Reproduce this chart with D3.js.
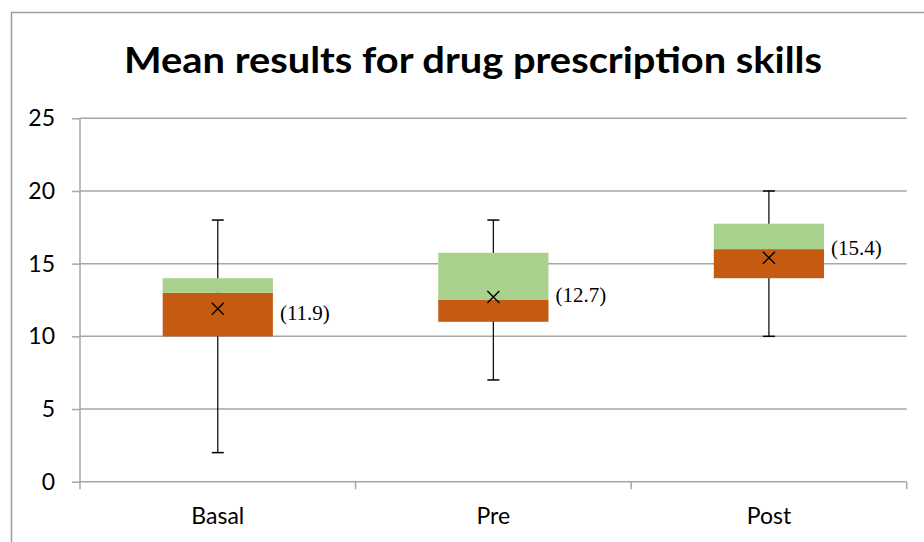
<!DOCTYPE html>
<html>
<head>
<meta charset="utf-8">
<script src="https://cdn.jsdelivr.net/npm/d3@7"></script>
<style>
  html, body { margin: 0; padding: 0; background: #fff; }
  svg { display: block; }
</style>
</head>
<body>
<svg id="chart" width="924" height="542"></svg>
<script>
// ---- data ----
const categories = ["Basal", "Pre", "Post"];
const whiskerLow = [2, 7, 10];
const boxLow = [10, 11, 14];
const median = [13, 12.5, 16];
const boxHigh = [14, 15.75, 17.75];
const whiskerHigh = [18, 18, 20];
const means = [11.9, 12.7, 15.4];
const meanLabels = ["(11.9)", "(12.7)", "(15.4)"];
const yTicks = [0, 5, 10, 15, 20, 25];
const title = "Mean results for drug prescription skills";

// ---- layout ----
const W = 924, H = 542;
const plot = { left: 80, right: 906.7, top: 118.3, bottom: 481.7 };
const labelNudge = [4, -2, -10]; // vertical nudge of mean labels (px)
const orange = "#C55A11", green = "#A9D18E", gridCol = "#a6a6a6";

const svg = d3.select("#chart");

// outer chart border
svg.append("path")
  .attr("d", `M11.5,${H} V12.5 H${W}`)
  .attr("fill", "none").attr("stroke", "#9e9e9e").attr("stroke-width", 1.5);

svg.append("text")
  .attr("x", 473).attr("y", 73)
  .attr("text-anchor", "middle")
  .attr("font-family", "Lato, 'Open Sans', sans-serif")
  .attr("font-weight", "bold")
  .attr("font-size", 36)
  .attr("textLength", 698).attr("lengthAdjust", "spacingAndGlyphs")
  .attr("fill", "#000")
  .text(title);

const x = d3.scaleBand().domain(categories).range([plot.left, plot.right]).paddingInner(0).paddingOuter(0);
const y = d3.scaleLinear().domain([0, 25]).range([plot.bottom, plot.top]);

// gridlines
svg.append("g").selectAll("line").data(yTicks).join("line")
  .attr("x1", plot.left).attr("x2", plot.right)
  .attr("y1", d => y(d)).attr("y2", d => y(d))
  .attr("stroke", gridCol).attr("stroke-width", 1.5);

// y axis
const yAxis = svg.append("g").attr("transform", `translate(${plot.left},0)`)
  .call(d3.axisLeft(y).tickValues(yTicks).tickSize(8).tickPadding(17));
yAxis.select(".domain").remove();
yAxis.selectAll(".tick line").attr("stroke", gridCol).attr("stroke-width", 1.5);
yAxis.selectAll(".tick text")
  .attr("font-family", "Lato, 'Open Sans', sans-serif")
  .attr("font-size", 23).attr("fill", "#000");
svg.append("line")
  .attr("x1", plot.left).attr("x2", plot.left)
  .attr("y1", plot.top).attr("y2", plot.bottom + 7.5)
  .attr("stroke", gridCol).attr("stroke-width", 1.5);

// x axis boundary ticks
const bounds = [0, 1, 2, 3].map(i => plot.left + i * x.bandwidth());
svg.append("g").selectAll("line").data(bounds.slice(1)).join("line")
  .attr("x1", d => d).attr("x2", d => d)
  .attr("y1", plot.bottom).attr("y2", plot.bottom + 7.5)
  .attr("stroke", gridCol).attr("stroke-width", 1.5);

// category labels
svg.append("g").selectAll("text").data(categories).join("text")
  .attr("x", d => x(d) + x.bandwidth() / 2)
  .attr("y", 524)
  .attr("text-anchor", "middle")
  .attr("font-family", "Lato, 'Open Sans', sans-serif")
  .attr("font-size", 23).attr("fill", "#000")
  .text(d => d);

const boxW = x.bandwidth() * 0.4;
const capW = 12;
const g = svg.append("g");
categories.forEach((c, i) => {
  const cx = x(c) + x.bandwidth() / 2;
  // whiskers
  g.append("line").attr("x1", cx).attr("x2", cx)
    .attr("y1", y(whiskerLow[i])).attr("y2", y(whiskerHigh[i]))
    .attr("stroke", "#000").attr("stroke-width", 1.2);
  [whiskerLow[i], whiskerHigh[i]].forEach(v => {
    g.append("line").attr("x1", cx - capW / 2).attr("x2", cx + capW / 2)
      .attr("y1", y(v)).attr("y2", y(v))
      .attr("stroke", "#000").attr("stroke-width", 1.5);
  });
  // boxes
  g.append("rect").attr("x", cx - boxW / 2).attr("width", boxW)
    .attr("y", y(median[i])).attr("height", y(boxLow[i]) - y(median[i]))
    .attr("fill", orange);
  g.append("rect").attr("x", cx - boxW / 2).attr("width", boxW)
    .attr("y", y(boxHigh[i])).attr("height", y(median[i]) - y(boxHigh[i]))
    .attr("fill", green);
  // mean marker
  const my = y(means[i]);
  g.append("path")
    .attr("d", `M${cx - 6},${my - 6}L${cx + 6},${my + 6}M${cx - 6},${my + 6}L${cx + 6},${my - 6}`)
    .attr("stroke", "#000").attr("stroke-width", 1.4).attr("fill", "none");
  // label
  g.append("text")
    .attr("x", cx + boxW / 2 + 7)
    .attr("y", my + labelNudge[i])
    .attr("dy", "0.35em")
    .attr("font-family", "'Liberation Serif', 'Times New Roman', serif")
    .attr("font-size", 21).attr("fill", "#000")
    .text(meanLabels[i]);
});
</script>
</body>
</html>
